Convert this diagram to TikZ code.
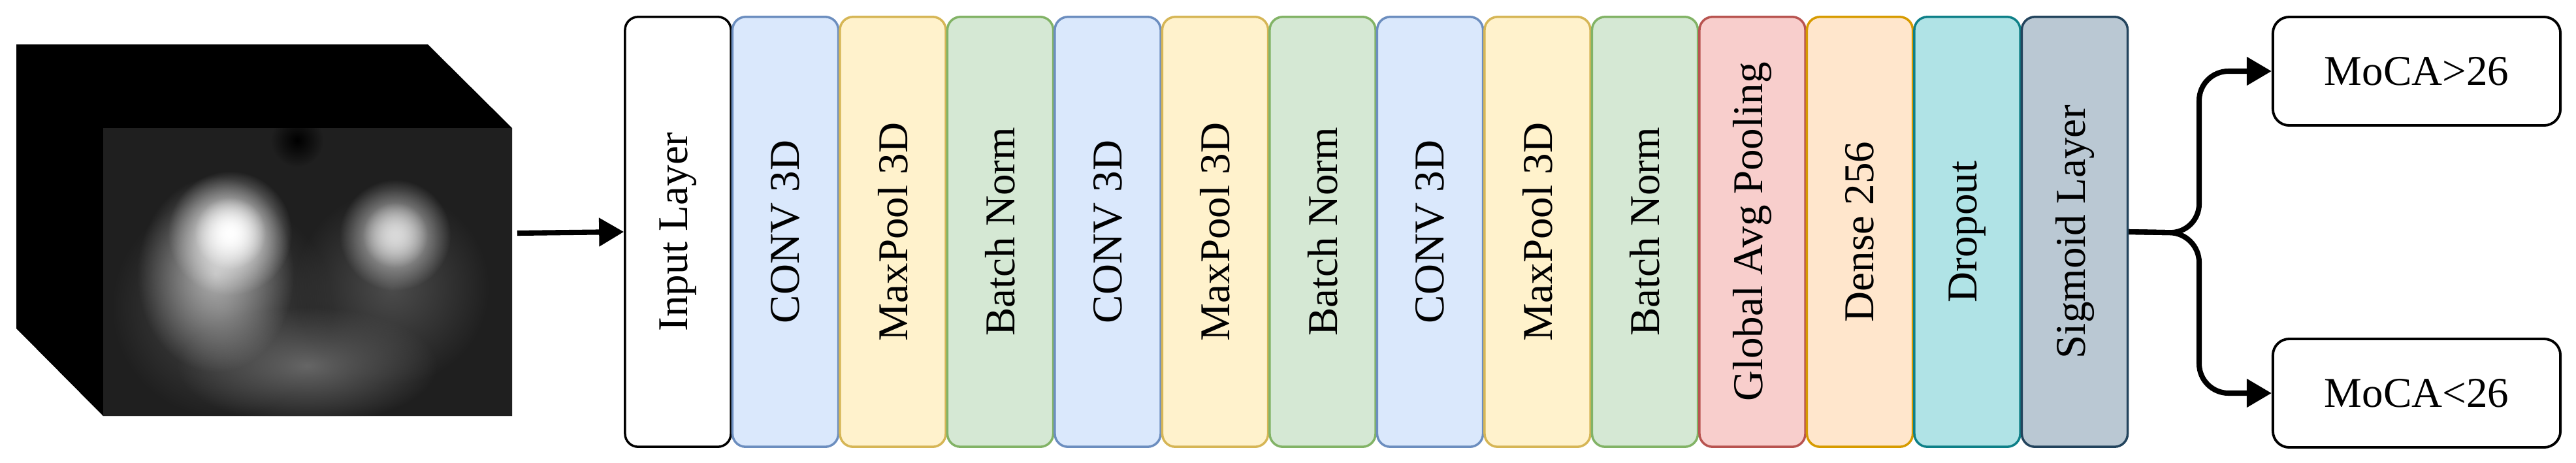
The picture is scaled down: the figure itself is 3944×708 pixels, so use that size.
\documentclass[tikz,border=0pt]{standalone}
\usepackage{fontspec}
\setmainfont{Liberation Serif}
\usetikzlibrary{arrows.meta,fadings}
\tikzfading[name=blob, inner color=transparent!0, outer color=transparent!100]
\definecolor{bF}{HTML}{DAE8FC}\definecolor{bD}{HTML}{6C8EBF}
\definecolor{yF}{HTML}{FFF2CC}\definecolor{yD}{HTML}{D6B656}
\definecolor{gF}{HTML}{D5E8D4}\definecolor{gD}{HTML}{82B366}
\definecolor{rF}{HTML}{F8CECC}\definecolor{rD}{HTML}{B85450}
\definecolor{oF}{HTML}{FFE6CC}\definecolor{oD}{HTML}{D79B00}
\definecolor{tF}{HTML}{B0E3E6}\definecolor{tD}{HTML}{0E8088}
\definecolor{sF}{HTML}{BAC8D3}\definecolor{sD}{HTML}{23445D}
\tikzset{
 layer/.style={draw=#1D,fill=#1F,line width=1pt,rounded corners=0.2cm,minimum width=1.62cm,minimum height=6.58cm,inner sep=0pt,font=\fontsize{18.5}{20}\selectfont},
 lbl/.style={rotate=90,font=\fontsize{18.5}{20}\selectfont},
 outbox/.style={draw=black,line width=1.1pt,rounded corners=0.25cm,minimum width=4.4cm,minimum height=1.66cm,font=\fontsize{18.5}{20}\selectfont},
 conn/.style={line width=2.3pt,-{Triangle[length=0.38cm,width=0.42cm]}}
}
\begin{document}
\begin{tikzpicture}[x=0.01cm,y=-0.01cm]
\useasboundingbox (0,0) rectangle (3944,708);
% cube
\fill[black] (25,68) -- (655,68) -- (784,196) -- (784,637) -- (158,637) -- (25,503) -- cycle;
\begin{scope}
\clip (158,196) rectangle (784,637);
\fill[black!88] (158,196) rectangle (784,637);
\fill[black!70,path fading=blob] (340,470) circle (170);
\fill[black!70,path fading=blob] (600,440) circle (150);
\fill[black!60,path fading=blob] (470,560) ellipse (200 and 90);
\fill[white!70!black,path fading=blob] (330,420) ellipse (120 and 150);
\fill[white,path fading=blob] (352,357) circle (95);
\fill[white,path fading=blob] (352,357) circle (55);
\fill[white!85!black,path fading=blob] (605,360) circle (85);
\fill[white!85!black,path fading=blob] (605,360) circle (50);
\fill[black,path fading=blob] (455,215) circle (40);
\end{scope}
\coordinate (cube) at (792,357);
% layers
\node[layer=b,draw=black,fill=white] (l1) at (1038,355) {};
\node[lbl] at (l1) {Input Layer};
\foreach \i/\c [count=\k from 2] in {
 b/CONV 3D, y/MaxPool 3D, g/Batch Norm,
 b/CONV 3D, y/MaxPool 3D, g/Batch Norm,
 b/CONV 3D, y/MaxPool 3D, g/Batch Norm,
 r/Global Avg Pooling, o/Dense 256, t/Dropout, s/Sigmoid Layer}{
 \node[layer=\i] (l\k) at ({1038+(\k-1)*164.5},355) {};
 \node[lbl] at (l\k) {\c};
}
\draw[conn] (cube) -- (l1.west);
\node[outbox] (o1) at (3700,109) {MoCA>26};
\node[outbox] (o2) at (3700,602) {MoCA<26};
\draw[conn,rounded corners=0.45cm] (l14.east) -- (3367,357) -- (3367,109) -- (o1.west);
\draw[conn,rounded corners=0.45cm] (l14.east) -- (3367,357) -- (3367,602) -- (o2.west);
\end{tikzpicture}
\end{document}
